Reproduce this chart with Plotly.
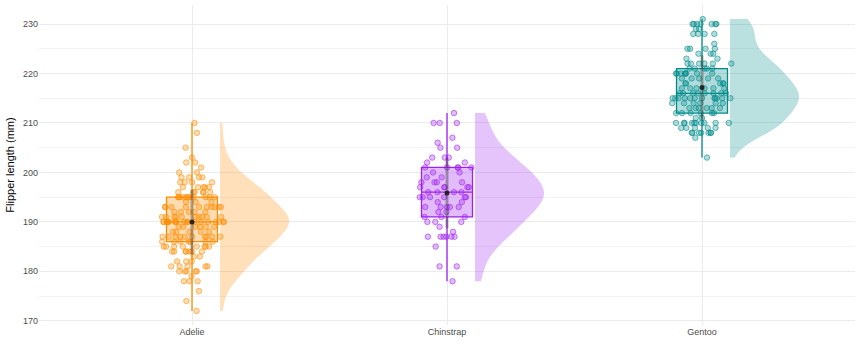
import numpy as np
import plotly.graph_objects as go

species = ["Adelie", "Chinstrap", "Gentoo"]

adelie = [181, 186, 195, 193, 190, 181, 195, 193, 190, 186, 180, 182, 191, 198, 185, 195, 197, 184, 194, 174,
          180, 189, 185, 180, 187, 183, 187, 172, 180, 178, 178, 188, 184, 195, 196, 190, 180, 181, 184, 182,
          195, 186, 196, 185, 190, 182, 179, 190, 191, 186, 188, 190, 200, 187, 191, 186, 193, 181, 194, 185,
          195, 185, 192, 184, 192, 195, 188, 190, 198, 190, 190, 196, 197, 190, 195, 191, 184, 187, 195, 189,
          196, 187, 193, 191, 194, 190, 189, 189, 190, 202, 205, 185, 186, 187, 208, 190, 196, 178, 192, 192,
          203, 183, 190, 193, 184, 199, 190, 181, 197, 198, 191, 193, 197, 191, 196, 188, 199, 189, 189, 187,
          198, 176, 202, 186, 199, 191, 195, 191, 210, 190, 197, 193, 199, 187, 190, 191, 200, 185, 193, 193,
          187, 188, 190, 192, 185, 190, 184, 195, 193, 187, 201]

chinstrap = [192, 196, 193, 188, 197, 198, 178, 197, 195, 198, 193, 194, 185, 201, 190, 201, 197, 181, 190, 195,
             181, 191, 187, 193, 195, 197, 200, 200, 191, 205, 187, 201, 187, 203, 195, 199, 195, 210, 192, 205,
             210, 187, 196, 196, 196, 201, 190, 212, 187, 198, 199, 201, 193, 203, 187, 197, 191, 203, 202, 194,
             206, 189, 195, 207, 202, 193, 210, 198]

gentoo = [211, 230, 210, 218, 215, 210, 211, 219, 209, 215, 214, 216, 214, 213, 210, 217, 210, 221, 209, 222,
          218, 215, 213, 215, 215, 215, 216, 215, 210, 220, 222, 209, 207, 230, 220, 220, 213, 219, 208, 208,
          208, 225, 210, 216, 222, 217, 210, 225, 213, 215, 210, 220, 210, 225, 217, 220, 208, 220, 208, 224,
          208, 221, 214, 231, 219, 230, 214, 229, 220, 223, 216, 221, 221, 217, 216, 230, 209, 220, 215, 223,
          212, 221, 212, 224, 212, 228, 218, 218, 212, 230, 218, 228, 212, 224, 214, 226, 216, 222, 203, 225,
          219, 228, 215, 228, 216, 215, 210, 219, 208, 209, 216, 229, 213, 230, 217, 230, 217, 222, 214, 215,
          222, 212, 213]

values = [adelie, chinstrap, gentoo]
colors = [(255, 140, 0), (160, 32, 240), (0, 139, 139)]

NUDGE = 0.11
BOX_W = 0.2
JITTER_W = 0.25
VIOLIN_W = 0.54


def rgba(c, a):
    return f"rgba({c[0]},{c[1]},{c[2]},{a})"


fig = go.Figure()
for i, (name, vals, col) in enumerate(zip(species, values, colors)):
    pos = i + 1
    fig.add_trace(go.Violin(
        x=[pos + NUDGE] * len(vals), y=vals, side="positive", width=VIOLIN_W,
        spanmode="hard", points=False, fillcolor=rgba(col, 0.27),
        line=dict(width=0, color=rgba(col, 0)), box_visible=False, meanline_visible=False,
        scalemode="width", showlegend=False, hoverinfo="skip"))
    fig.add_trace(go.Box(
        x=[pos] * len(vals), y=vals, width=BOX_W, boxpoints=False,
        fillcolor=rgba(col, 0.3), line=dict(color=rgba(col, 1), width=1.3), whiskerwidth=0,
        showlegend=False))
    fig.add_trace(go.Box(
        x=[pos] * len(vals), y=vals, width=JITTER_W, boxpoints="all", jitter=1.0, pointpos=0,
        fillcolor="rgba(0,0,0,0)", line=dict(color="rgba(0,0,0,0)", width=0), whiskerwidth=0,
        marker=dict(size=5.5, color=rgba(col, 0.3), line=dict(color=rgba(col, 0.55), width=1)),
        showlegend=False))
    arr = np.array(vals, dtype=float)
    fig.add_trace(go.Scatter(
        x=[pos], y=[arr.mean()], mode="markers",
        marker=dict(size=5, color="rgba(20,20,20,0.85)"),
        error_y=dict(type="data", array=[arr.std(ddof=1)], width=0, thickness=3,
                     color="rgba(60,60,60,0.4)"),
        showlegend=False))

fig.update_layout(
    width=864, height=360, margin=dict(l=39, r=9, t=5, b=35),
    plot_bgcolor="white", paper_bgcolor="white",
    boxmode="overlay", violinmode="overlay",
    font=dict(family="Liberation Sans, Arial, sans-serif", size=9, color="#4D4D4D"),
    xaxis=dict(range=[0.4, 3.6], tickvals=[1, 2, 3], ticktext=species, showgrid=True,
               gridcolor="#EBEBEB", gridwidth=1, zeroline=False, showline=False, ticks="",
               automargin=False, tickfont=dict(size=9, color="#4D4D4D")),
    yaxis=dict(range=[169.15, 233.85], tickvals=[170, 180, 190, 200, 210, 220, 230],
               showgrid=True, gridcolor="#EBEBEB", gridwidth=1, zeroline=False, showline=False,
               ticks="", automargin=False, tickfont=dict(size=9, color="#4D4D4D"),
               minor=dict(tickvals=[175, 185, 195, 205, 215, 225], showgrid=True,
                          gridcolor="#F2F2F2", gridwidth=1),
               title=dict(text="Flipper length (mm)", font=dict(size=11, color="black"), standoff=6)),
)

fig.write_html("out.html", config={"displayModeBar": False},
               post_script="document.body.style.margin='0';")
